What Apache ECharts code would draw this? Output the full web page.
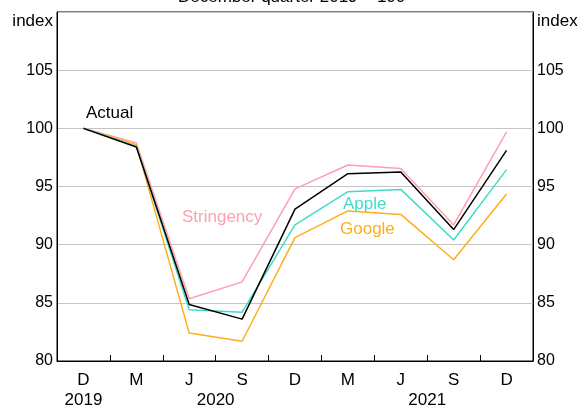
<!DOCTYPE html>
<html>
<head>
<meta charset="utf-8">
<script src="https://cdn.jsdelivr.net/npm/echarts@6/dist/echarts.min.js"></script>
<style>
  html, body { margin: 0; padding: 0; background: #fff; }
  #chart { width: 578px; height: 410px; }
</style>
</head>
<body>
<div id="chart"></div>
<script>
// 季度标签
var quarters = ['D', 'M', 'J', 'S', 'D', 'M', 'J', 'S', 'D'];
// 年份标签（位置按季度序号）
var yearLabels = { '0.5': '2019', '3': '2020', '7': '2021' };
var yTicks = [80, 85, 90, 95, 100, 105, 110];

var actual     = [100, 98.4, 84.85, 83.6, 93.05, 96.1, 96.25, 91.3, 98.1];
var stringency = [100, 98.75, 85.35, 86.8, 94.8, 96.85, 96.55, 91.7, 99.7];
var apple      = [100, 98.45, 84.4, 84.2, 91.7, 94.55, 94.75, 90.4, 96.45];
var google     = [100, 98.6, 82.4, 81.7, 90.6, 92.9, 92.6, 88.7, 94.35];

var FONT = 'Liberation Sans, Arial, sans-serif';
var C_PINK = '#ff9fb0', C_TEAL = '#3fdcc8', C_ORANGE = '#ffad1a';

var chart = echarts.init(document.getElementById('chart'));

function yAxisCfg(pos) {
    return {
        type: 'value',
        position: pos,
        min: yTicks[0],
        max: yTicks[yTicks.length - 1],
        interval: 5,
        axisLine: { show: true, lineStyle: { color: '#000', width: 1 } },
        axisTick: { show: false },
        splitLine: { show: pos === 'left', lineStyle: { color: '#c4c4c4', width: 1 } },
        axisLabel: {
            color: '#000', fontSize: 16, fontFamily: FONT, margin: 4,
            formatter: function (v) { return v === 110 ? '' : String(v); }
        }
    };
}

function lineSeries(name, data, color, z) {
    return {
        name: name, type: 'line', data: data, symbol: 'none',
        xAxisIndex: 0, yAxisIndex: 0, z: z, silent: true,
        lineStyle: { color: color, width: 1.5 }
    };
}

var option = {
    animation: false,
    backgroundColor: '#fff',
    grid: { left: 57, right: 45, top: 12, height: 350, show: true, borderColor: '#000', borderWidth: 1, containLabel: false },
    xAxis: [
        {
            type: 'category',
            data: quarters,
            boundaryGap: true,
            axisLine: { show: true, lineStyle: { color: '#000', width: 1 } },
            axisTick: { show: true, inside: true, length: 6, interval: 0, lineStyle: { color: '#000' } },
            axisLabel: { color: '#000', fontSize: 17, fontFamily: FONT, margin: 9, lineHeight: 20, interval: 0 },
            splitLine: { show: false }
        },
        {
            type: 'value',
            position: 'bottom',
            offset: 20,
            min: 0,
            max: 9,
            interval: 0.5,
            axisLine: { show: false },
            axisTick: { show: false },
            splitLine: { show: false },
            axisLabel: {
                color: '#000', fontSize: 17, fontFamily: FONT, margin: 9, lineHeight: 20,
                showMinLabel: true, showMaxLabel: true,
                formatter: function (v) { return yearLabels[String(v)] || ''; }
            }
        }
    ],
    yAxis: [yAxisCfg('left'), yAxisCfg('right')],
    series: [
        lineSeries('Stringency', stringency, C_PINK, 2),
        lineSeries('Google', google, C_ORANGE, 3),
        lineSeries('Apple', apple, C_TEAL, 4),
        lineSeries('Actual', actual, '#000', 5)
    ],
    graphic: [
        { type: 'text', left: 178, top: -11, style: { text: 'December quarter 2019 = 100', fill: '#000', font: '17px ' + FONT } },
        { type: 'text', x: 53, y: 21, style: { text: 'index', fill: '#000', font: '17px ' + FONT, textAlign: 'right', textVerticalAlign: 'middle' } },
        { type: 'text', x: 537, y: 21, style: { text: 'index', fill: '#000', font: '17px ' + FONT, textAlign: 'left', textVerticalAlign: 'middle' } },
        { type: 'text', x: 86, y: 113, style: { text: 'Actual', fill: '#000', font: '17px ' + FONT, textVerticalAlign: 'middle' } },
        { type: 'text', x: 182, y: 217, style: { text: 'Stringency', fill: C_PINK, font: '17px ' + FONT, textVerticalAlign: 'middle' } },
        { type: 'text', x: 343, y: 204, style: { text: 'Apple', fill: C_TEAL, font: '17px ' + FONT, textVerticalAlign: 'middle' } },
        { type: 'text', x: 340, y: 229, style: { text: 'Google', fill: C_ORANGE, font: '17px ' + FONT, textVerticalAlign: 'middle' } }
    ]
};

chart.setOption(option);
</script>
</body>
</html>
